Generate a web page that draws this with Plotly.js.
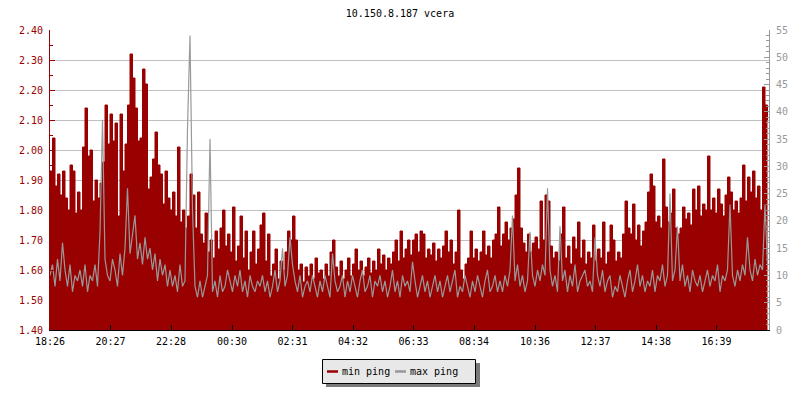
<!DOCTYPE html>
<html>
<head>
<meta charset="utf-8">
<script src="https://cdn.plot.ly/plotly-3.0.1.min.js"></script>
<style>html,body{margin:0;padding:0;background:#fff}#chart{width:800px;height:400px}</style>
</head>
<body>
<div id="chart"></div>
<script>
// sampling: one value every 5 minutes, starting at 18:26
const startLabel = '18:26';
const stepMinutes = 5;

const tickLabels = ['18:26','20:27','22:28','00:30','02:31','04:32','06:33','08:34','10:36','12:37','14:38','16:39'];

const minPing = [
  1.93, 2.04, 1.88, 1.92, 1.85, 1.93, 1.84, 1.80, 1.95, 1.93, 1.79, 1.86,
  1.80, 2.01, 2.14, 1.98, 2.00, 1.83, 1.90, 1.84, 1.89, 1.96, 2.15, 2.02,
  2.12, 2.03, 2.09, 1.78, 2.12, 1.93, 2.02, 2.15, 2.32, 2.24, 2.14, 2.03,
  2.04, 2.27, 2.22, 1.87, 1.91, 1.97, 2.06, 1.95, 1.92, 1.82, 1.93, 1.84,
  1.80, 1.86, 1.78, 2.01, 1.76, 1.80, 1.74, 1.78, 1.92, 1.85, 1.74, 1.86,
  1.72, 1.69, 1.79, 1.66, 1.70, 1.64, 1.73, 1.67, 1.74, 1.80, 1.68, 1.72,
  1.66, 1.81, 1.63, 1.68, 1.78, 1.64, 1.73, 1.60, 1.66, 1.73, 1.62, 1.67,
  1.75, 1.79, 1.63, 1.72, 1.58, 1.62, 1.67, 1.57, 1.63, 1.60, 1.66, 1.73,
  1.70, 1.78, 1.70, 1.60, 1.62, 1.56, 1.61, 1.58, 1.62, 1.57, 1.64, 1.59,
  1.60, 1.57, 1.62, 1.58, 1.66, 1.70, 1.61, 1.58, 1.63, 1.57, 1.60, 1.64,
  1.58, 1.62, 1.67, 1.60, 1.63, 1.58, 1.61, 1.64, 1.59, 1.63, 1.60, 1.67,
  1.62, 1.65, 1.60, 1.64, 1.62, 1.66, 1.70, 1.63, 1.73, 1.64, 1.67, 1.70,
  1.65, 1.70, 1.72, 1.66, 1.73, 1.72, 1.64, 1.67, 1.65, 1.69, 1.63, 1.67,
  1.64, 1.68, 1.73, 1.66, 1.70, 1.62, 1.66, 1.80, 1.60, 1.57, 1.62, 1.64,
  1.73, 1.64, 1.67, 1.63, 1.66, 1.73, 1.65, 1.68, 1.64, 1.70, 1.72, 1.81,
  1.68, 1.72, 1.76, 1.70, 1.74, 1.77, 1.85, 1.94, 1.74, 1.69, 1.66, 1.72,
  1.66, 1.69, 1.71, 1.67, 1.83, 1.70, 1.85, 1.83, 1.68, 1.64, 1.66, 1.63,
  1.72, 1.81, 1.64, 1.68, 1.62, 1.71, 1.67, 1.76, 1.64, 1.70, 1.62, 1.66,
  1.64, 1.75, 1.63, 1.67, 1.64, 1.76, 1.62, 1.66, 1.75, 1.70, 1.63, 1.66,
  1.64, 1.72, 1.83, 1.74, 1.72, 1.82, 1.70, 1.75, 1.68, 1.73, 1.76, 1.86,
  1.92, 1.88, 1.76, 1.78, 1.74, 1.97, 1.81, 1.76, 1.79, 1.87, 1.74, 1.72,
  1.74, 1.81, 1.77, 1.79, 1.75, 1.87, 1.80, 1.88, 1.78, 1.82, 1.80, 1.98,
  1.80, 1.84, 1.79, 1.87, 1.82, 1.78, 1.85, 1.91, 1.86, 1.80, 1.83, 1.79,
  1.84, 1.95, 1.83, 1.91, 1.86, 1.93, 1.84, 1.88, 1.80, 2.21, 2.15, 2.10
];

const maxPing = [
  10, 12, 8, 13, 9, 16, 11, 8, 12, 7, 10, 9,
  11, 8, 12, 7, 10, 9, 12, 8, 18, 38.5, 13, 10,
  9, 13, 11, 8, 14, 10, 15, 26, 14, 18, 21, 13,
  16, 12, 17, 13, 15, 11, 14, 9, 13, 10, 12, 8,
  11, 8, 10, 7, 12, 8, 9, 37, 54, 22, 8, 6,
  9, 6, 8, 10, 35, 7, 9, 6, 10, 7, 8, 11,
  9, 7, 10, 8, 11, 7, 9, 6, 10, 8, 7, 9,
  8, 10, 7, 9, 6, 8, 11, 7, 9, 15, 8, 10,
  17, 12, 9, 7, 10, 6, 8, 9, 7, 10, 8, 6,
  9, 7, 10, 8, 6, 14, 9, 7, 8, 10, 6, 9,
  7, 10, 8, 6, 9, 11, 7, 8, 10, 6, 9, 8,
  10, 7, 9, 6, 8, 11, 7, 9, 6, 10, 8, 9,
  7, 12.5, 9, 6, 8, 10, 7, 9, 6, 8, 10, 7,
  9, 6, 8, 10, 7, 9, 11, 6, 8, 7, 10, 8,
  6, 9, 7, 10, 8, 6, 9, 11, 7, 8, 10, 7,
  9, 7, 10, 8, 11, 21, 9, 12, 8, 10, 7, 9,
  18, 10, 8, 11, 9, 12, 10, 26, 11, 8, 10, 7,
  19, 9, 11, 7, 10, 8, 12, 7, 9, 10, 11, 8,
  9, 7, 17, 10, 8, 11, 7, 9, 10, 6, 8, 7,
  10, 8, 6, 9, 11, 7, 9, 12, 8, 10, 7, 9,
  8, 11, 7, 10, 9, 12, 8, 10, 25, 9, 11, 19,
  9, 12, 8, 10, 7, 11, 9, 8, 10, 7, 9, 11,
  8, 10, 9, 12, 7, 10, 9, 11, 23, 10, 8, 11,
  9, 12, 10, 17, 11, 9, 13, 10, 12, 11, 23, 12
];

const seriesNames = ['min ping', 'max ping'];
const seriesColors = ['#990000', '#999999'];

function toMin(lbl) {
  const [h, m] = lbl.split(':').map(Number);
  return h * 60 + m;
}
const start = toMin(startLabel);
const tickVals = tickLabels.map(l => ((toMin(l) - start) + 1440) % 1440);
const xs = minPing.map((_, i) => i * stepMinutes);

// plot box in pixels
const L = 50, R = 769, T = 30, B = 330;
const px = x => (x - L) / (R - L);
const py = y => (B - y) / (B - T);

const mono = 'DejaVu Sans Mono, monospace';

const traces = [
  {
    x: xs, y: minPing, name: seriesNames[0], type: 'scatter', mode: 'lines',
    fill: 'tozeroy', fillcolor: seriesColors[0],
    line: { color: seriesColors[0], width: 1, shape: 'hv' }, yaxis: 'y', hoverinfo: 'skip'
  },
  {
    x: xs, y: maxPing, name: seriesNames[1], type: 'scatter', mode: 'lines',
    line: { color: seriesColors[1], width: 1.2 }, yaxis: 'y2', hoverinfo: 'skip'
  }
];

const shapes = [
  // legend shadow
  { type: 'rect', xref: 'paper', yref: 'paper', x0: px(326), x1: px(480), y0: py(387), y1: py(363),
    fillcolor: '#7a7a7a', line: { width: 0 }, layer: 'above' },
  // legend box
  { type: 'rect', xref: 'paper', yref: 'paper', x0: px(322.5), x1: px(475.5), y0: py(383.5), y1: py(359.5),
    fillcolor: '#e8e8e8', line: { color: '#000', width: 1 }, layer: 'above' },
  // legend swatches
  { type: 'line', xref: 'paper', yref: 'paper', x0: px(327), x1: px(338), y0: py(371.5), y1: py(371.5),
    line: { color: seriesColors[0], width: 2.5 }, layer: 'above' },
  { type: 'line', xref: 'paper', yref: 'paper', x0: px(395), x1: px(406), y0: py(371.5), y1: py(371.5),
    line: { color: seriesColors[1], width: 2.5 }, layer: 'above' }
];

const annotations = [
  { text: seriesNames[0], xref: 'paper', yref: 'paper', x: px(341), y: py(371.5), xanchor: 'left', yanchor: 'middle',
    showarrow: false, font: { family: mono, size: 10, color: '#000' }, borderpad: 0 },
  { text: seriesNames[1], xref: 'paper', yref: 'paper', x: px(409), y: py(371.5), xanchor: 'left', yanchor: 'middle',
    showarrow: false, font: { family: mono, size: 10, color: '#000' }, borderpad: 0 }
];

const layout = {
  width: 800, height: 400,
  margin: { l: L, r: 800 - R, t: T, b: 400 - B, pad: 0 },
  paper_bgcolor: '#ffffff', plot_bgcolor: '#ffffff',
  showlegend: false,
  title: { text: '10.150.8.187 vcera', x: 0.5, xanchor: 'center', y: 1 - 13 / 400, yanchor: 'middle', yref: 'container',
           font: { family: mono, size: 10, color: '#000' } },
  xaxis: {
    range: [0, 1438], tickmode: 'array', tickvals: tickVals, ticktext: tickLabels,
    showgrid: false, zeroline: false, showline: true, linecolor: '#000', linewidth: 1,
    ticks: 'inside', ticklen: 5, tickcolor: '#000', tickwidth: 1,
    tickfont: { family: mono, size: 10, color: '#000' }, ticklabelstandoff: 2
  },
  yaxis: {
    range: [1.4, 2.4], dtick: 0.1, tick0: 1.4, tickformat: '.2f',
    showgrid: true, gridcolor: '#c0c0c0', gridwidth: 1, zeroline: false,
    showline: true, linecolor: '#990000', linewidth: 1,
    ticks: 'inside', ticklen: 5, tickcolor: '#990000',
    minor: { dtick: 0.05, ticks: 'inside', ticklen: 3, tickcolor: '#990000', showgrid: false },
    tickfont: { family: mono, size: 10, color: '#990000' }, ticklabelstandoff: 4
  },
  yaxis2: {
    overlaying: 'y', side: 'right', range: [0, 55], dtick: 5, tick0: 0,
    showgrid: false, zeroline: false, showline: true, linecolor: '#999999', linewidth: 1,
    ticks: 'inside', ticklen: 5, tickcolor: '#999999',
    minor: { dtick: 1, ticks: 'inside', ticklen: 3, tickcolor: '#999999', showgrid: false },
    tickfont: { family: mono, size: 10, color: '#999999' }, ticklabelstandoff: 4
  },
  shapes: shapes,
  annotations: annotations
};

Plotly.newPlot('chart', traces, layout, { staticPlot: true, displayModeBar: false });
</script>
</body>
</html>
